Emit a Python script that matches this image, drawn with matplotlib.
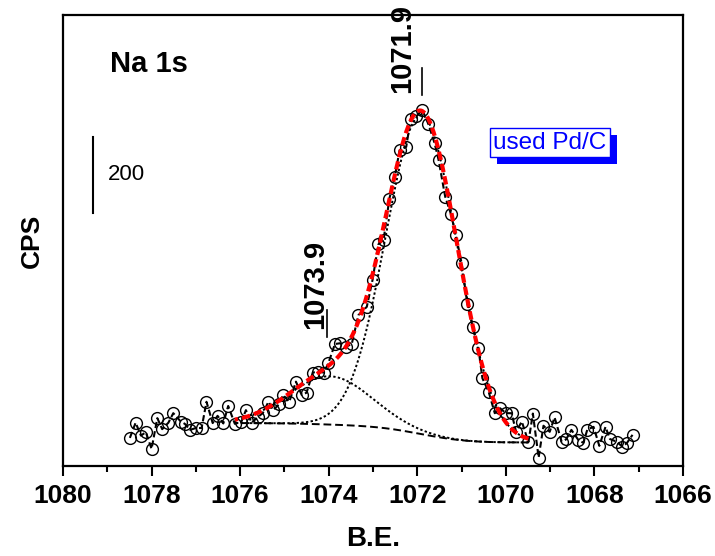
import numpy as np
import matplotlib
matplotlib.use("Agg")
import matplotlib.pyplot as plt
import matplotlib.transforms as mtransforms
from matplotlib import patheffects
from matplotlib.ticker import MultipleLocator

plt.rcParams['font.family'] = ['Liberation Sans', 'DejaVu Sans']

# measured spectrum (binding energy in eV, counts per second)
be = [1078.49, 1078.36, 1078.24, 1078.13, 1078.00, 1077.87, 1077.76, 1077.62, 1077.51, 1077.34,
      1077.25, 1077.13, 1077.00, 1076.87, 1076.76, 1076.62, 1076.51, 1076.38, 1076.27, 1076.12,
      1075.97, 1075.87, 1075.74, 1075.59, 1075.49, 1075.36, 1075.25, 1075.12, 1075.03, 1074.89,
      1074.74, 1074.61, 1074.50, 1074.36, 1074.24, 1074.11, 1074.01, 1073.86, 1073.75, 1073.61,
      1073.48, 1073.33, 1073.14, 1073.01, 1072.88, 1072.76, 1072.63, 1072.51, 1072.40, 1072.25,
      1072.15, 1072.02, 1071.89, 1071.75, 1071.61, 1071.52, 1071.37, 1071.24, 1071.13, 1071.00,
      1070.87, 1070.75, 1070.62, 1070.53, 1070.39, 1070.25, 1070.13, 1070.00, 1069.87, 1069.77,
      1069.64, 1069.49, 1069.39, 1069.26, 1069.15, 1069.01, 1068.90, 1068.74, 1068.64, 1068.52,
      1068.36, 1068.25, 1068.16, 1068.02, 1067.89, 1067.75, 1067.65, 1067.50, 1067.37, 1067.27,
      1067.14]
cps = [3074, 3114, 3080, 3089, 3045, 3126, 3097, 3114, 3139, 3117,
       3111, 3095, 3100, 3100, 3169, 3113, 3132, 3112, 3158, 3111,
       3117, 3147, 3114, 3130, 3139, 3169, 3147, 3163, 3187, 3169,
       3222, 3187, 3193, 3246, 3248, 3246, 3270, 3321, 3323, 3314,
       3321, 3397, 3419, 3490, 3583, 3596, 3704, 3760, 3831, 3840,
       3912, 3920, 3938, 3900, 3850, 3806, 3709, 3663, 3608, 3534,
       3427, 3367, 3310, 3231, 3196, 3139, 3152, 3139, 3139, 3090,
       3117, 3063, 3138, 3022, 3106, 3090, 3128, 3064, 3070, 3095,
       3068, 3061, 3096, 3103, 3053, 3103, 3071, 3064, 3051, 3060,
       3082]

# fitted components
peak_centers = [1071.9, 1073.97]
peak_heights = [840, 127]
peak_fwhm = [1.9, 2.2]
bg_high = 3113
bg_low = 3062
fit_lo, fit_hi = 1069.49, 1076.12

xf = np.linspace(fit_lo, fit_hi, 400)
peaks = [h * np.exp(-4 * np.log(2) * ((xf - c) / w) ** 2)
         for c, h, w in zip(peak_centers, peak_heights, peak_fwhm)]
total = peaks[0] + peaks[1]
cum = np.concatenate([[0], np.cumsum((total[1:] + total[:-1]) / 2 * np.diff(xf))])
bg = bg_low + (bg_high - bg_low) * cum / cum[-1]

fig = plt.figure(figsize=(7.15, 5.56), dpi=100)
ax = fig.add_axes([63 / 715, 90 / 556, 620 / 715, 451 / 556])

ax.plot(be, cps, color='black', lw=1.5, dashes=(3, 1.5), marker='o', ms=8.5,
        mfc='none', mec='black', mew=1.0, zorder=2)
ax.plot(xf, bg, color='black', lw=1.4, dashes=(4, 2), zorder=3)
for p in peaks:
    ax.plot(xf, bg + p, color='black', lw=1.4, dashes=(1.2, 1.2), zorder=3)
ax.plot(xf, bg + total, color='red', lw=3, dashes=(2, 1), zorder=4)

ax.set_xlim(1080, 1066)
ax.set_ylim(3000, 4187)
ax.xaxis.set_major_locator(MultipleLocator(2))
ax.xaxis.set_minor_locator(MultipleLocator(1))
ax.set_yticks([])
ax.tick_params(axis='x', which='major', direction='out', length=7, width=1.5,
               labelsize=19, pad=6)
ax.tick_params(axis='x', which='minor', direction='out', length=4, width=1.5)
for lab in ax.get_xticklabels():
    lab.set_fontweight('bold')
for s in ax.spines.values():
    s.set_linewidth(1.6)

ax.set_xlabel('B.E.', fontsize=20, fontweight='bold', labelpad=13)
ax.set_ylabel('CPS', fontsize=19, fontweight='bold', labelpad=14)

ax.text(0.139, 0.891, 'Na 1s', transform=ax.transAxes, fontsize=21,
        fontweight='bold', ha='center', va='center')

# 200 CPS scale bar
trans = mtransforms.blended_transform_factory(ax.transAxes, ax.transData)
ax.plot([0.048, 0.048], [3666, 3866], color='black', lw=1.5, transform=trans)
ax.text(0.072, 3766, '200', transform=trans, fontsize=16, ha='left', va='center')

# peak labels
ax.plot([1071.9, 1071.9], [3976, 4047], color='black', lw=1.2)
ax.text(1072.34, 4100, '1071.9', rotation=90, fontsize=21, fontweight='bold',
        ha='center', va='center', clip_on=False)
ax.plot([1074.03, 1074.03], [3340, 3410], color='black', lw=1.2)
ax.text(1074.3, 3479, '1073.9', rotation=90, fontsize=21, fontweight='bold',
        ha='center', va='center')

t = ax.text(0.785, 0.717, 'used Pd/C', transform=ax.transAxes, fontsize=17.5,
            color='blue', ha='center', va='center',
            bbox=dict(boxstyle='square,pad=0.14', fc='white', ec='blue', lw=1))
t.get_bbox_patch().set_path_effects([
    patheffects.SimplePatchShadow(offset=(5, -5), shadow_rgbFace='blue', alpha=1.0),
    patheffects.Normal()])

fig.savefig('out.png', dpi=100)
